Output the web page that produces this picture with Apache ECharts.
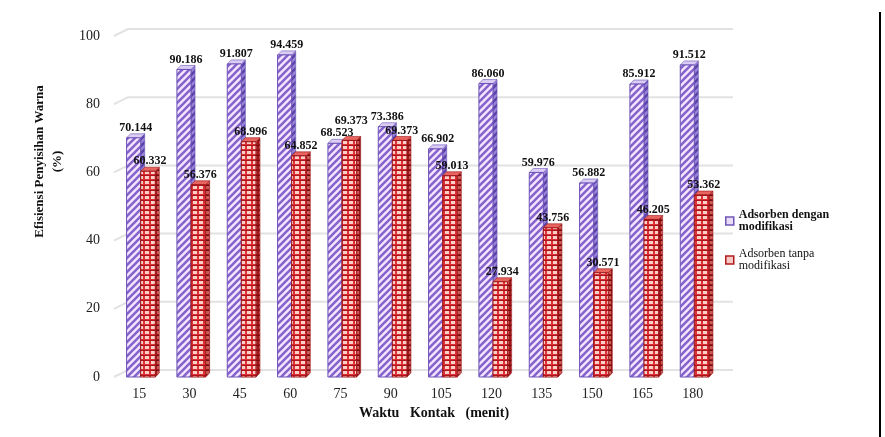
<!DOCTYPE html>
<html>
<head>
<meta charset="utf-8">
<script src="https://cdn.jsdelivr.net/npm/echarts@6/dist/echarts.min.js"></script>
<style>
  html, body { margin: 0; padding: 0; background: #fff; }
  #chart { width: 885px; height: 437px; }
</style>
</head>
<body>
<div id="chart"></div>
<script>
// data
var waktu = ['15', '30', '45', '60', '75', '90', '105', '120', '135', '150', '165', '180'];
var denganModifikasi = [70.144, 90.186, 91.807, 94.459, 68.523, 73.386, 66.902, 86.060, 59.976, 56.882, 85.912, 91.512];
var tanpaModifikasi = [60.332, 56.376, 68.996, 64.852, 69.373, 69.373, 59.013, 27.934, 43.756, 30.571, 46.205, 53.362];
var yTicks = [0, 20, 40, 60, 80, 100];

var FONT = '"Liberation Serif", "Times New Roman", serif';

// small canvas tiles used as fill patterns
function tile(w, h, draw) {
  var c = document.createElement('canvas');
  c.width = w; c.height = h;
  draw(c.getContext('2d'), w, h);
  return { image: c, repeat: 'repeat' };
}
function stripes(bg, fg, lw) {
  return tile(7, 7, function (ctx, s) {
    ctx.fillStyle = bg; ctx.fillRect(0, 0, s, s);
    ctx.strokeStyle = fg; ctx.lineWidth = lw;
    ctx.beginPath();
    ctx.moveTo(0, s); ctx.lineTo(s, 0);
    ctx.moveTo(-2, 2); ctx.lineTo(2, -2);
    ctx.moveTo(s - 2, s + 2); ctx.lineTo(s + 2, s - 2);
    ctx.stroke();
  });
}
function checks(bg, fg, line) {
  return tile(6, 5, function (ctx) {
    ctx.fillStyle = bg; ctx.fillRect(0, 0, 6, 5);
    ctx.fillStyle = fg; ctx.fillRect(1, 1, 4, 3);
    ctx.fillStyle = line; ctx.fillRect(0, 0, 6, 1);
  });
}

var ungu = {
  front: stripes('#f8e4fc', '#8365cd', 2.6),
  side: stripes('#9a84da', '#5a42a6', 2.4),
  top: '#dccdf5',
  edge: '#6a52b6'
};
var merah = {
  front: checks('#dc3034', '#fcd0c8', '#a8151a'),
  side: checks('#a0181b', '#c95c57', '#700c0f'),
  top: '#e8645f',
  edge: '#9c1518'
};

// other = values of the series drawn behind, used to keep labels apart
function barRenderer(from, to, faces, other) {
  return function (params, api) {
    var idx = api.value(0), v = api.value(1);
    var top = api.coord([idx, v]);
    var base = api.coord([idx, 0]);
    var bw = api.size([1, 0])[0];
    var x0 = top[0] + bw * from, x1 = top[0] + bw * to;
    var d = bw * 0.08, up = 4;
    var yT = top[1], yB = base[1];
    var ly = yT - up;
    if (other) {
      var oy = api.coord([idx, other[idx]])[1] - up;
      if (Math.abs(ly - oy) < 12) ly = Math.min(ly, oy - 12);
    }
    return {
      type: 'group',
      children: [
        { type: 'polygon', shape: { points: [[x1, yT], [x1 + d, yT - up], [x1 + d, yB - up], [x1, yB]] },
          style: { fill: faces.side, stroke: faces.edge, lineWidth: 0.6 } },
        { type: 'polygon', shape: { points: [[x0, yT], [x0 + d, yT - up], [x1 + d, yT - up], [x1, yT]] },
          style: { fill: faces.top, stroke: faces.edge, lineWidth: 0.6 } },
        { type: 'rect', shape: { x: x0, y: yT, width: x1 - x0, height: yB - yT },
          style: { fill: faces.front, stroke: faces.edge, lineWidth: 1 } },
        { type: 'text', z2: 100, x: (x0 + x1) / 2 + d / 2, y: ly,
          style: { text: v.toFixed(3), font: 'bold 12px ' + FONT, fill: '#111', align: 'center', verticalAlign: 'bottom' } }
      ]
    };
  };
}

var myChart = echarts.init(document.getElementById('chart'));

var option = {
  backgroundColor: '#fff',
  animation: false,
  grid: { left: 114, right: 167, top: 36, bottom: 60 },
  legend: {
    orient: 'vertical',
    left: 720,
    top: 204,
    itemWidth: 8,
    itemHeight: 8,
    itemGap: 15,
    textStyle: { fontFamily: FONT, fontSize: 12, color: '#111', lineHeight: 12 },
    data: [
      { name: 'Adsorben dengan\nmodifikasi', icon: 'rect',
        itemStyle: { color: '#e9dcf8', borderColor: '#6d55b8', borderWidth: 1.5 },
        textStyle: { fontWeight: 'bold' } },
      { name: 'Adsorben tanpa\nmodifikasi', icon: 'rect',
        itemStyle: { color: '#f6c8c4', borderColor: '#b01c1f', borderWidth: 1.5 } }
    ]
  },
  xAxis: {
    type: 'category',
    data: waktu,
    axisLine: { show: false },
    axisTick: { show: false },
    axisLabel: { fontFamily: FONT, fontSize: 14, color: '#222', margin: 10 },
    name: 'Waktu   Kontak   (menit)',
    nameLocation: 'middle',
    nameGap: 25,
    nameTextStyle: { fontFamily: FONT, fontSize: 14, fontWeight: 'bold', color: '#111', padding: [0, 0, 0, 36] }
  },
  yAxis: {
    type: 'value',
    min: 0,
    max: 100,
    interval: 20,
    axisLine: { show: false },
    axisTick: { show: false },
    splitLine: { show: false },
    axisLabel: { fontFamily: FONT, fontSize: 14, color: '#222', margin: 14, padding: [6, 0, 0, 0] },
    name: 'Efisiensi Penyisihan Warna\n(%)',
    nameLocation: 'middle',
    nameGap: 47,
    nameTextStyle: { fontFamily: FONT, fontSize: 13, fontWeight: 'bold', color: '#111', lineHeight: 18, padding: [0, 0, 0, 90] }
  },
  series: [
    {
      name: 'grid',
      type: 'custom',
      silent: true,
      z: 1,
      data: yTicks.map(function (t) { return [0, t]; }),
      encode: { x: 0, y: 1 },
      renderItem: function (params, api) {
        var y = api.coord([0, api.value(1)])[1];
        var cs = params.coordSys;
        return {
          type: 'polyline',
          shape: { points: [[cs.x, y], [cs.x + 14, y - 7], [cs.x + cs.width + 15, y - 7]] },
          style: { stroke: '#e2e2e2', lineWidth: 2, fill: null }
        };
      }
    },
    {
      name: 'Adsorben dengan\nmodifikasi',
      type: 'custom',
      z: 2,
      itemStyle: { color: '#8668cf' },
      data: denganModifikasi.map(function (v, i) { return [i, v]; }),
      encode: { x: 0, y: 1 },
      renderItem: barRenderer(-0.25, 0.03, ungu)
    },
    {
      name: 'Adsorben tanpa\nmodifikasi',
      type: 'custom',
      z: 2,
      itemStyle: { color: '#d6272b' },
      data: tanpaModifikasi.map(function (v, i) { return [i, v]; }),
      encode: { x: 0, y: 1 },
      renderItem: barRenderer(0.03, 0.32, merah, denganModifikasi)
    }
  ],
  graphic: [
    { type: 'line', shape: { x1: 880, y1: 12, x2: 880, y2: 437 }, style: { stroke: '#000', lineWidth: 2 } }
  ]
};

if (option && typeof option === "object") {
  myChart.setOption(option, true);
}
</script>
</body>
</html>
